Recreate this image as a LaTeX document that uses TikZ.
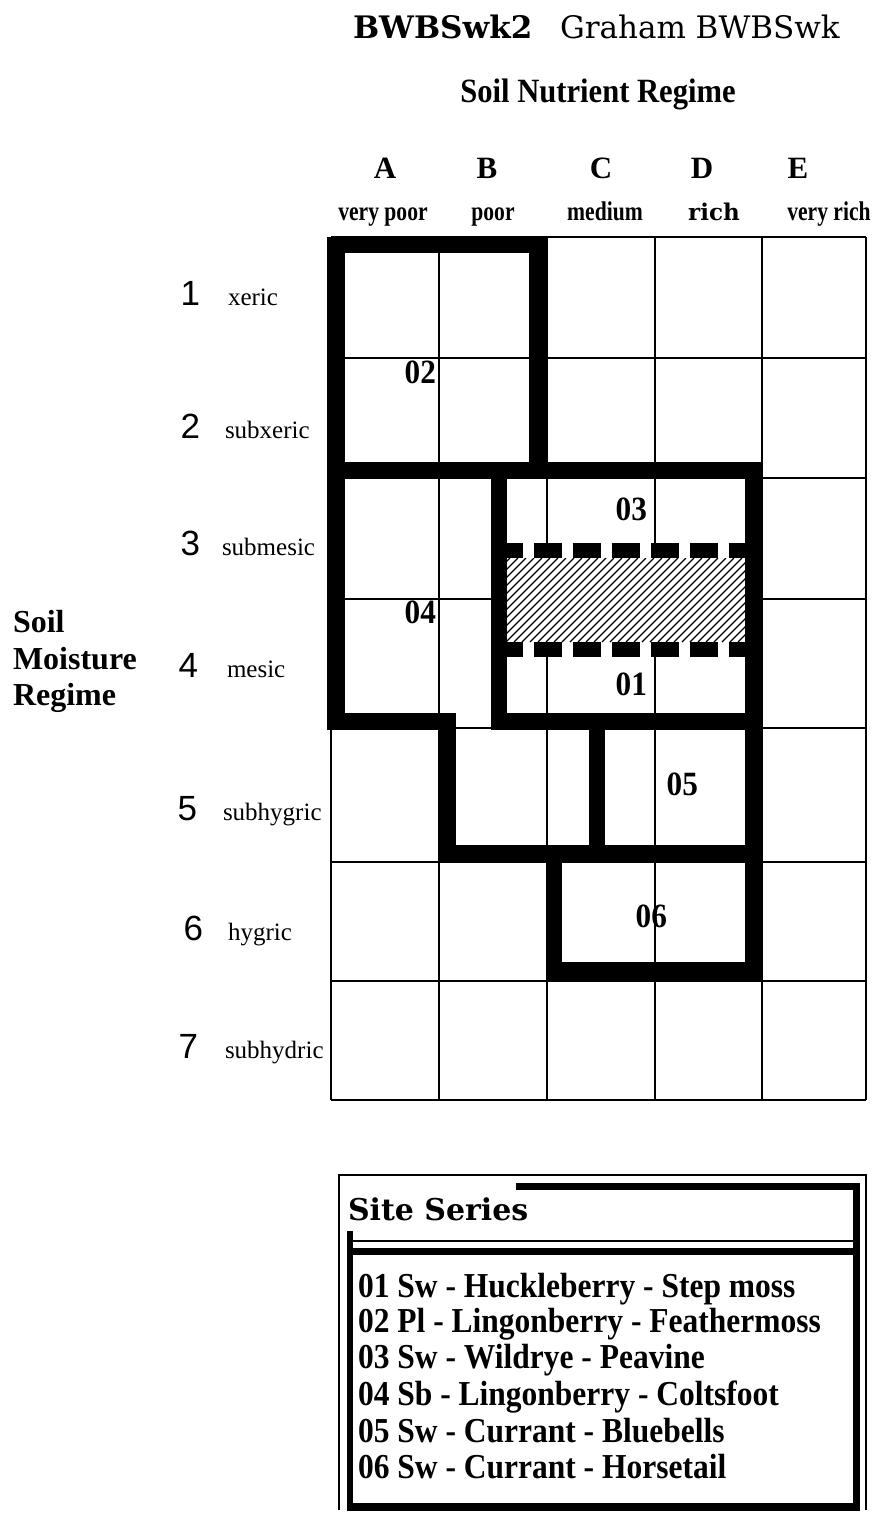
\documentclass[tikz,border=0pt]{standalone}
\usepackage{fontspec}
\setmainfont{Liberation Serif}
\newfontfamily\rownumfont{Liberation Sans}
\newfontfamily\widefont{DejaVu Serif}
\newfontfamily\narrowfont{Liberation Serif}[FakeStretch=0.8]
\newfontfamily\tightfont{Liberation Serif}[FakeStretch=0.9]
\newfontfamily\cellfont{Liberation Serif}[FakeStretch=0.92]
\usetikzlibrary{positioning}

\tikzset{
    txt/.style={inner sep=0pt, outer sep=0pt},
    gridline/.style={line width=1pt},
    bar/.style={fill=black},
    dashbar/.style={line width=7.5pt, dash pattern=on 14.25pt off 5.25pt, dash phase=6.25pt},
    hatchline/.style={line width=0.6pt},
    celllabel/.style={txt, anchor=base east, font=\cellfont\bfseries\fontsize{17}{19}\selectfont},
    colletter/.style={txt, anchor=base, font=\bfseries\fontsize{15.5}{17}\selectfont},
    colname/.style={txt, anchor=base, font=\narrowfont\bfseries\fontsize{13.5}{15}\selectfont},
    rownum/.style={txt, anchor=base east, font=\rownumfont\fontsize{17.5}{20}\selectfont},
    rowname/.style={txt, anchor=base west, font=\fontsize{12.5}{14}\selectfont},
    seriesline/.style={txt, anchor=base west, font=\tightfont\bfseries\fontsize{17.5}{19}\selectfont}
}

\begin{document}
\begin{tikzpicture}[x=0.5pt, y=-0.5pt]
    \useasboundingbox (0,0) rectangle (876,1516);

    % titles
    \node[txt, anchor=base west, font=\widefont\bfseries\fontsize{15.5}{17}\selectfont] (unit) at (353,38) {BWBSwk2};
    \node[txt, anchor=base west, font=\widefont\fontsize{15.5}{17}\selectfont] (area) at (560,38) {Graham BWBSwk};
    \node[txt, anchor=base, font=\tightfont\bfseries\fontsize{17}{19}\selectfont] (snr) at (598,102) {Soil Nutrient Regime};

    % nutrient columns
    \foreach \l/\x in {A/385, B/487, C/601, D/702, E/798}
        \node[colletter] (col\l) at (\x,178) {\l};
    \node[colname] (poorA) at (383,220) {very poor};
    \node[colname] (poorB) at (493,220) {poor};
    \node[colname] (medC) at (605,220) {medium};
    \node[txt, anchor=base, font=\widefont\bfseries\fontsize{11.5}{13}\selectfont] (richD) at (714,220) {rich};
    \node[colname] (richE) at (829,220) {very rich};

    % moisture rows
    \node[txt, anchor=base west, font=\bfseries\fontsize{16}{18}\selectfont] (smr1) at (13,632) {Soil};
    \node[txt, anchor=base west, font=\bfseries\fontsize{16}{18}\selectfont] (smr2) at (13,669) {Moisture};
    \node[txt, anchor=base west, font=\bfseries\fontsize{16}{18}\selectfont] (smr3) at (13,705) {Regime};
    \foreach \n/\w/\y/\xn/\xw in {1/xeric/305/200/228, 2/subxeric/438/200/225, 3/submesic/555/200/222,
        4/mesic/677/198/227, 5/subhygric/820/197/223, 6/hygric/940/203/228, 7/subhydric/1058/198/225}
    {
        \node[rownum] (num\n) at (\xn,\y) {\n};
        \node[rowname] (name\n) at (\xw,\y) {\w};
    }

    % edatopic grid
    \foreach \x in {331,439,547,655,762,866}
        \draw[gridline] (\x,237) -- (\x,1100);
    \foreach \y in {237,358,478,599,728,862,981,1100}
        \draw[gridline] (331,\y) -- (866,\y);

    % hatched overlap of 03 and 01
    \fill[white] (507,558) rectangle (745,642);
    \begin{scope}
        \clip (507,558) rectangle (745,642);
        \foreach \x in {410,418,...,760}
            \draw[hatchline] (\x,642) -- ++(84,-84);
    \end{scope}
    \draw[dashbar] (507,550.5) -- (745,550.5);
    \draw[dashbar] (507,649.5) -- (745,649.5);

    % site series borders
    \foreach \xa/\ya/\xb/\yb in {327/237/547/253, 327/237/345/730, 529/237/547/478, 327/462/762/478,
        745/462/762/980, 491/462/507/730, 327/713/456/730, 438/713/456/863, 491/713/762/730,
        589/728/605/845, 438/845/762/863, 547/845/562/980, 547/962/762/980}
        \fill[bar] (\xa,\ya) rectangle (\xb,\yb);

    \node[celllabel] (s02) at (436,383) {02};
    \node[celllabel] (s04) at (436,623) {04};
    \node[celllabel] (s03) at (647,520) {03};
    \node[celllabel] (s01) at (647,695) {01};
    \node[celllabel] (s05) at (698,795) {05};
    \node[celllabel] (s06) at (667,927) {06};

    % legend box
    \draw[gridline] (339,1510) -- (339,1175) -- (866,1175) -- (866,1510);
    \foreach \xa/\ya/\xb/\yb in {516/1183/860/1190, 853/1183/860/1511, 347/1503/860/1511,
        347/1231/353/1511, 347/1248/853/1255}
        \fill[bar] (\xa,\ya) rectangle (\xb,\yb);
    \draw[gridline] (353,1241) -- (853,1241);
    \node[txt, anchor=base west, font=\widefont\bfseries\fontsize{15}{17}\selectfont] (legtitle) at (348,1220) {Site Series};
    \foreach \i/\t/\y in {1/{01 Sw - Huckleberry - Step moss}/1297, 2/{02 Pl - Lingonberry - Feathermoss}/1332,
        3/{03 Sw - Wildrye - Peavine}/1368, 4/{04 Sb - Lingonberry - Coltsfoot}/1405,
        5/{05 Sw - Currant - Bluebells}/1442, 6/{06 Sw - Currant - Horsetail}/1478}
        \node[seriesline] (leg\i) at (358,\y) {\t};
\end{tikzpicture}
\end{document}
